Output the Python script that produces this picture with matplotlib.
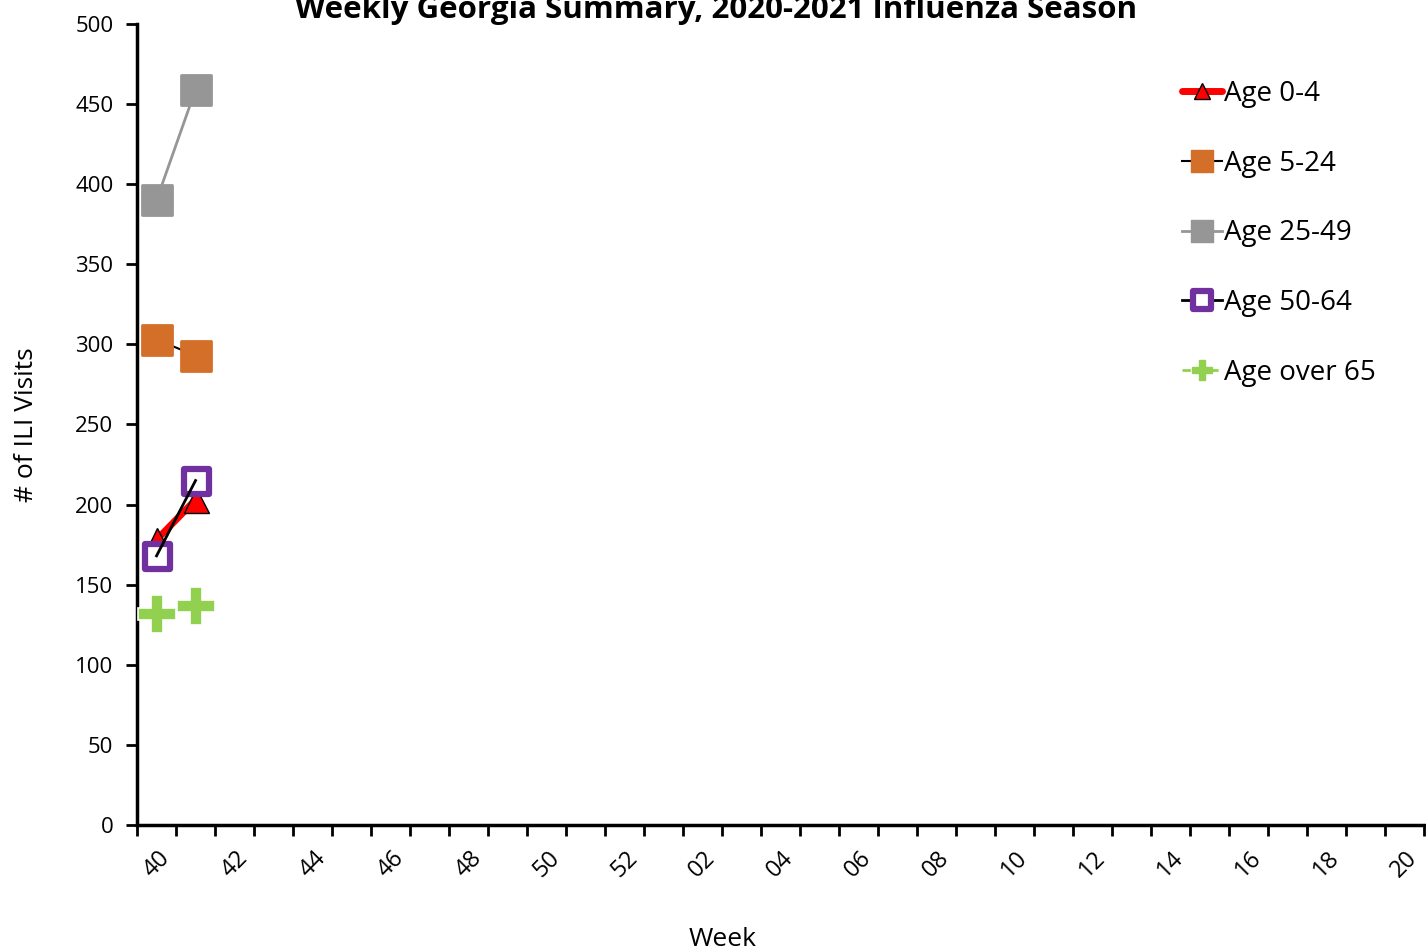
import matplotlib
matplotlib.use("Agg")
import matplotlib.pyplot as plt
from matplotlib.markers import MarkerStyle

plt.rcParams['font.family'] = ['Open Sans', 'DejaVu Sans']

# Surveillance weeks of the 2020-2021 season (week 40 through week 20)
weeks = [str(w) for w in range(40, 53)] + [f"{w:02d}" for w in range(1, 21)]

# Weekly ILI visit counts by age group (reported weeks only)
age_0_4 = [178, 203]
age_5_24 = [303, 293]
age_25_49 = [390, 459]
age_50_64 = [168, 215]
age_over_65 = [132, 137]

fig = plt.figure(figsize=(14.26, 9.51), dpi=100)
ax = fig.add_axes([0.0961, 0.1325, 0.9025, 0.8423])

n = len(age_0_4)
x = list(range(n))

def rounded(m):
    return MarkerStyle(m, joinstyle='round')

# Age 0-4: thick red line with red triangles
ax.plot(x, age_0_4, color='#FF0000', lw=5, zorder=3,
        marker='^', markersize=18, markerfacecolor='#FF0000',
        markeredgecolor='black', markeredgewidth=1, label='Age 0-4')
# Age 5-24: thin black line with orange squares
ax.plot(x, age_5_24, color='black', lw=1.5, zorder=3,
        marker=rounded('s'), markersize=21, markerfacecolor='#D46F2A',
        markeredgecolor='#D46F2A', markeredgewidth=2, label='Age 5-24')
# Age 25-49: gray line with gray squares
ax.plot(x, age_25_49, color='#969696', lw=2, zorder=3,
        marker=rounded('s'), markersize=21, markerfacecolor='#969696',
        markeredgecolor='#969696', markeredgewidth=2, label='Age 25-49')
# Age 50-64: hollow purple squares, black line drawn over them
ax.plot(x, age_50_64, color='none', lw=0, zorder=4,
        marker=rounded('s'), markersize=18, markerfacecolor='white',
        markeredgecolor='#7030A0', markeredgewidth=4.5)
ax.plot(x, age_50_64, color='black', lw=2, zorder=5)
# Age over 65: dashed green line with green plus markers
ax.plot(x, age_over_65, color='#92D050', lw=2, ls='--', zorder=6,
        marker='P', markersize=28, markerfacecolor='#92D050',
        markeredgecolor='white', markeredgewidth=1.2)

# Legend proxies (markers drawn smaller, as in the key)
h1, = ax.plot([], [], color='#FF0000', lw=5, solid_capstyle='round',
              marker='^', markersize=12, markerfacecolor='#FF0000',
              markeredgecolor='black', markeredgewidth=1)
h2, = ax.plot([], [], color='black', lw=1.5, marker=rounded('s'),
              markersize=16, markerfacecolor='#D46F2A', markeredgecolor='#D46F2A')
h3, = ax.plot([], [], color='#969696', lw=2, marker=rounded('s'),
              markersize=16, markerfacecolor='#969696', markeredgecolor='#969696')
h4, = ax.plot([], [], color='black', lw=2, marker=rounded('s'),
              markersize=13, markerfacecolor='white', markeredgecolor='#7030A0',
              markeredgewidth=4.5)
h5, = ax.plot([], [], color='#92D050', lw=2, ls=(0, (3, 2)), marker='P',
              markersize=14, markerfacecolor='#92D050', markeredgecolor='#92D050')
leg = ax.legend([h1, h2, h3, h4, h5],
                ['Age 0-4', 'Age 5-24', 'Age 25-49', 'Age 50-64', 'Age over 65'],
                loc='upper left', bbox_to_anchor=(0.803, 0.944), frameon=False,
                fontsize=20, handlelength=1.45, handletextpad=0.08,
                labelspacing=1.5, borderaxespad=0)

# Axes styling
ax.set_xlim(-0.5, len(weeks) - 0.5)
ax.set_ylim(0, 500)
ax.set_yticks(range(0, 501, 50))
ax.tick_params(axis='y', labelsize=16, length=8, width=2, direction='out', pad=9)

bounds = [i - 0.5 for i in range(len(weeks) + 1)]
ax.set_xticks(bounds)
ax.set_xticklabels([])
ax.tick_params(axis='x', which='major', length=8, width=2, direction='out')
centers = list(range(0, len(weeks), 2))
ax.set_xticks(centers, [weeks[i] for i in centers], minor=True)
ax.tick_params(axis='x', which='minor', length=0, pad=15,
               labelsize=17, labelrotation=45)

for s in ['top', 'right']:
    ax.spines[s].set_visible(False)
for s in ['left', 'bottom']:
    ax.spines[s].set_linewidth(2.5)
    ax.spines[s].set_zorder(2)

ax.set_ylabel('# of ILI Visits', fontsize=19, labelpad=26)
fig.text(0.507, 0.012, 'Week', ha='center', va='center', fontsize=19)
fig.text(0.502, 0.99, 'Weekly Georgia Summary, 2020-2021 Influenza Season',
         ha='center', va='center', fontsize=22.5, fontweight='bold')

fig.savefig('out.png', dpi=100)
